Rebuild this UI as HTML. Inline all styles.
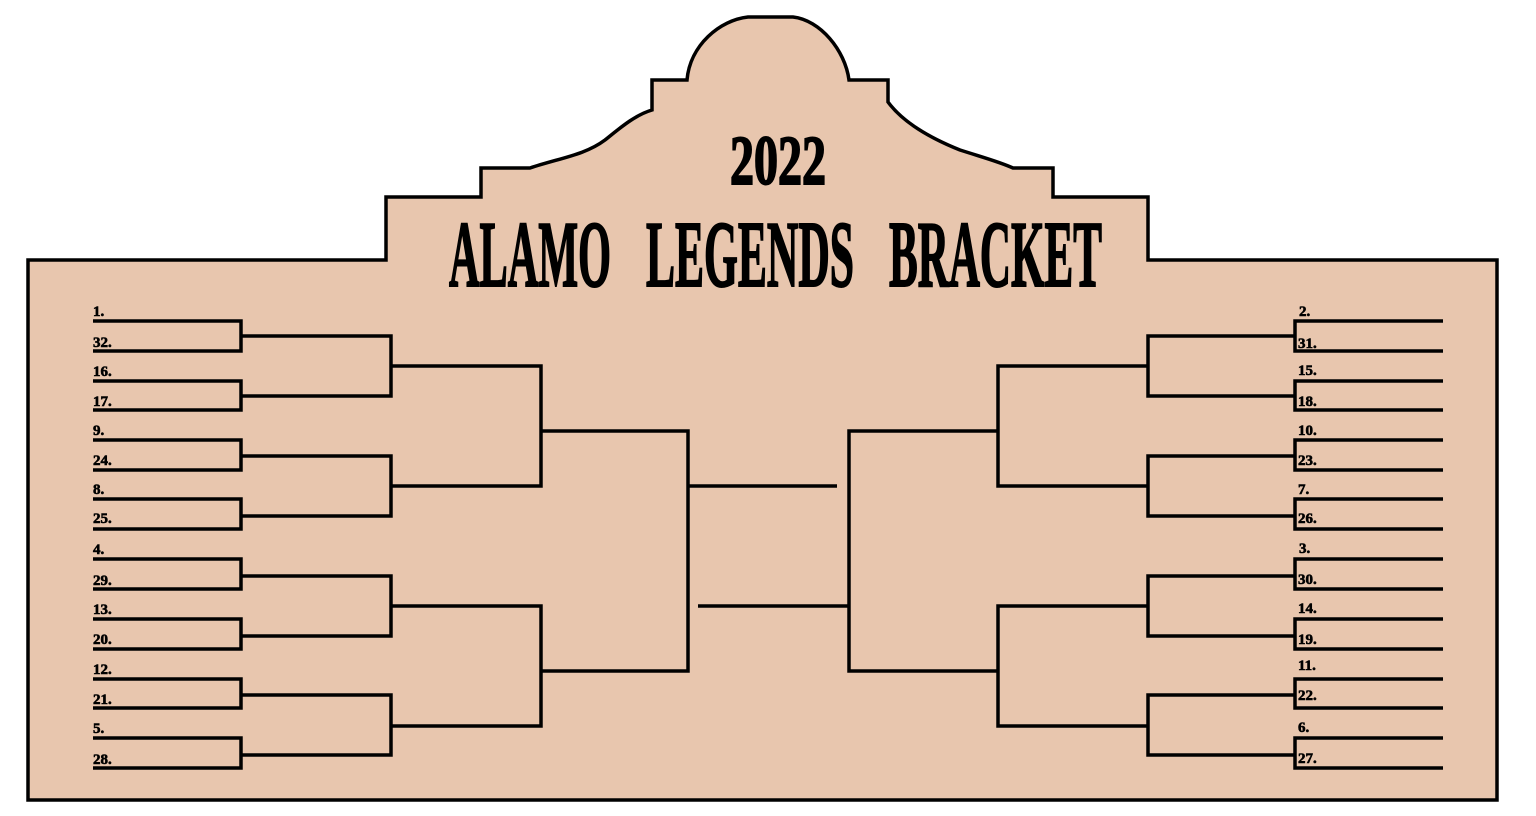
<!DOCTYPE html>
<html><head><meta charset="utf-8"><style>html,body{margin:0;padding:0;background:#fff}svg{display:block}</style></head>
<body>
<svg width="1536" height="816" viewBox="0 0 1536 816" xmlns="http://www.w3.org/2000/svg">
<path d="M28,260 H386 V197 H481 V168 H530 C560,158 585,155 605,140 C620,128 635,115 652,110 V80 H687 C690,45 720,20 748,17 H793 C820,20 845,50 849,80 H888 V102 C905,125 935,140 960,150 C985,158 1000,162 1013,168 H1053 V197 H1148 V260 H1497 V800 H28 Z" fill="#e8c6ae" stroke="#000" stroke-width="3.5"/>
<g font-family="'Liberation Serif',serif" font-weight="bold" fill="#000" stroke="#000" stroke-width="2">
<text x="730" y="184" font-size="70" textLength="96" lengthAdjust="spacingAndGlyphs">2022</text>
<text x="449" y="286" font-size="94" textLength="162" lengthAdjust="spacingAndGlyphs">ALAMO</text>
<text x="646" y="286" font-size="94" textLength="208" lengthAdjust="spacingAndGlyphs">LEGENDS</text>
<text x="889" y="286" font-size="94" textLength="213" lengthAdjust="spacingAndGlyphs">BRACKET</text>
</g>
<g fill="none" stroke="#000" stroke-width="3.5">
<path d="M93,321H241V351H93 M93,381H241V410H93 M93,440H241V470H93 M93,499H241V529H93 M93,559H241V589H93 M93,619H241V649H93 M93,679H241V708H93 M93,738H241V768H93"/>
<path d="M241,336H391V396H241 M241,456H391V516H241 M241,576H391V636H241 M241,695H391V755H241"/>
<path d="M391,366H541V486H391 M391,606H541V726H391"/>
<path d="M541,431H688V671H541"/>
<path d="M688,486H837"/>
<path d="M1443,321H1295V351H1443 M1443,381H1295V410H1443 M1443,440H1295V470H1443 M1443,499H1295V529H1443 M1443,559H1295V589H1443 M1443,619H1295V649H1443 M1443,679H1295V708H1443 M1443,738H1295V768H1443"/>
<path d="M1295,336H1148V396H1295 M1295,456H1148V516H1295 M1295,576H1148V636H1295 M1295,695H1148V755H1295"/>
<path d="M1148,366H998V486H1148 M1148,606H998V726H1148"/>
<path d="M998,431H849V671H998"/>
<path d="M849,606H698"/>
</g>
<g font-family="'Liberation Serif',serif" font-weight="bold" font-size="15" fill="#000" stroke="#000" stroke-width="0.6">
<text x="93" y="316">1.</text>
<text x="93" y="347">32.</text>
<text x="93" y="376">16.</text>
<text x="93" y="406">17.</text>
<text x="93" y="435">9.</text>
<text x="93" y="465">24.</text>
<text x="93" y="494">8.</text>
<text x="93" y="523">25.</text>
<text x="93" y="554">4.</text>
<text x="93" y="585">29.</text>
<text x="93" y="614">13.</text>
<text x="93" y="644">20.</text>
<text x="93" y="674">12.</text>
<text x="93" y="704">21.</text>
<text x="93" y="733">5.</text>
<text x="93" y="764">28.</text>
<text x="1299" y="316">2.</text>
<text x="1298" y="348">31.</text>
<text x="1298" y="375">15.</text>
<text x="1298" y="406">18.</text>
<text x="1298" y="435">10.</text>
<text x="1298" y="465">23.</text>
<text x="1298" y="494">7.</text>
<text x="1298" y="523">26.</text>
<text x="1299" y="553">3.</text>
<text x="1298" y="584">30.</text>
<text x="1298" y="613">14.</text>
<text x="1298" y="644">19.</text>
<text x="1298" y="670">11.</text>
<text x="1298" y="700">22.</text>
<text x="1298" y="732">6.</text>
<text x="1298" y="763">27.</text>
</g>
</svg>
</body></html>
